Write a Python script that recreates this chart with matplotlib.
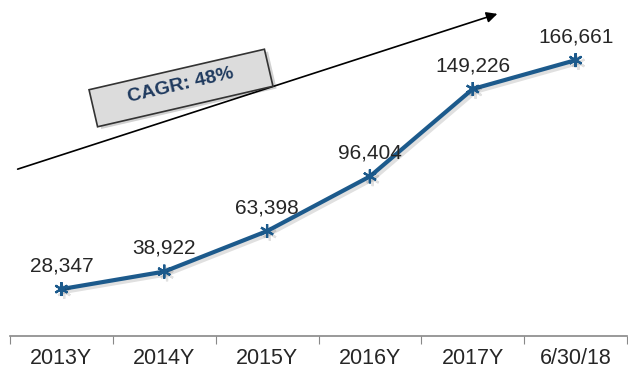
"""
Courbe de croissance avec flèche CAGR.
"""

import matplotlib
matplotlib.use("Agg")
import matplotlib.pyplot as plt
import matplotlib.patheffects as pe
from matplotlib.patches import FancyArrowPatch, Rectangle
from matplotlib.transforms import Affine2D

categories = ["2013Y", "2014Y", "2015Y", "2016Y", "2017Y", "6/30/18"]
values = [28347, 38922, 63398, 96404, 149226, 166661]
cagr_label = "CAGR: 48%"

plt.rcParams["font.family"] = ["Liberation Sans", "DejaVu Sans"]

W, H = 628, 374
fig = plt.figure(figsize=(W / 100, H / 100), dpi=100)
ax = fig.add_axes([10 / W, 38 / H, 617 / W, 336 / H])

x = list(range(len(categories)))
line_color = "#1c5a8c"
ax.plot(x, values, color=line_color, lw=3, marker=(6, 2, 0), markersize=10,
        markeredgewidth=1.6, markeredgecolor=line_color,
        path_effects=[pe.SimpleLineShadow(offset=(2, -2), alpha=0.12), pe.Normal()])

for xi, v in zip(x, values):
    ax.annotate(f"{v:,}", (xi, v), xytext=(0, 10), textcoords="offset points",
                ha="center", va="bottom", fontsize=15, color="#262626")

ax.set_xlim(-0.5, len(categories) - 0.5)
ax.set_ylim(0, 203000)
ax.set_yticks([])
ax.set_xticks([i - 0.5 for i in range(len(categories) + 1)])
ax.set_xticklabels([])
ax.set_xticks(x, minor=True)
ax.set_xticklabels(categories, minor=True, fontsize=15.5, color="#262626")
ax.tick_params(axis="x", which="major", length=6, color="#888888", direction="out")
ax.tick_params(axis="x", which="minor", length=0, pad=9)
for side in ["top", "right", "left"]:
    ax.spines[side].set_visible(False)
ax.spines["bottom"].set_color("#888888")
ax.spines["bottom"].set_linewidth(1.2)

# flèche de tendance
fig.patches.append(FancyArrowPatch(
    (15 / W, 1 - 170 / H), (500 / W, 1 - 13 / H),
    transform=fig.transFigure, arrowstyle="-|>", mutation_scale=16,
    color="black", lw=1.2))

# encadré CAGR incliné (coordonnées en pixels)
cx, cy = 181, H - 88
angle = 13
bw, bh = 180, 38
rot = Affine2D().rotate_deg_around(cx, cy, angle)
fig.patches.append(Rectangle((cx - bw / 2 + 3, cy - bh / 2 - 3), bw, bh,
                             transform=rot, fc="#000000", alpha=0.18, ec="none"))
fig.patches.append(Rectangle((cx - bw / 2, cy - bh / 2), bw, bh,
                             transform=rot, fc="#dcdcdc", ec="#333333", lw=1.2))
fig.text(cx / W, (cy + 3) / H, cagr_label, rotation=angle, ha="center", va="center",
         fontsize=14, fontweight="bold", color="#1f3a5f", rotation_mode="anchor")

fig.savefig("out.png", dpi=100)
